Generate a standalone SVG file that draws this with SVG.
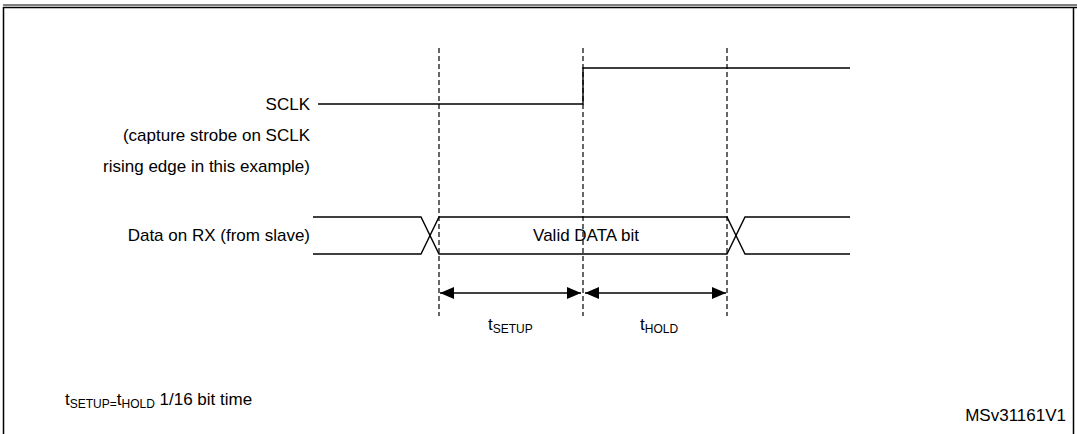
<svg xmlns="http://www.w3.org/2000/svg" width="1077" height="434" viewBox="0 0 1077 434">
<style>
text{font-family:"Liberation Sans",Arial,sans-serif;font-size:17px;fill:#000}
.w{fill:none;stroke:#000;stroke-width:1.4}
.d{stroke:#000;stroke-width:1.2;stroke-dasharray:5,3}
</style>
<defs>
<marker id="a" viewBox="0 0 14 12" refX="14" refY="6" markerWidth="14" markerHeight="12" orient="auto-start-reverse" markerUnits="userSpaceOnUse"><path d="M0,0L14,6L0,12z"/></marker>
</defs>
<rect width="1077" height="434" fill="#fff"/>
<g id="frame">
<line x1="3" y1="5" x2="1077" y2="5" stroke="#000" stroke-width="1"/>
<line x1="3" y1="7.5" x2="1077" y2="7.5" stroke="#000" stroke-width="1.5"/>
<line x1="3.5" y1="7" x2="3.5" y2="434" stroke="#000" stroke-width="1.5"/>
<line x1="1073.5" y1="7" x2="1073.5" y2="434" stroke="#000" stroke-width="1.5"/>
</g>
<g id="labels">
<text x="310" y="110" text-anchor="end">SCLK</text>
<text x="310" y="141" text-anchor="end">(capture strobe on SCLK</text>
<text x="310" y="172" text-anchor="end">rising edge in this example)</text>
<text x="310" y="241" text-anchor="end">Data on RX (from slave)</text>
<text x="586" y="241" text-anchor="middle">Valid DATA bit</text>
<text x="488" y="330">t<tspan font-size="12" dy="3">SETUP</tspan></text>
<text x="640" y="330">t<tspan font-size="12" dy="3">HOLD</tspan></text>
<text x="65" y="405">t<tspan font-size="12" dy="3">SETUP=</tspan><tspan dy="-3">t</tspan><tspan font-size="12" dy="3">HOLD</tspan><tspan dy="-3"> 1/16 bit time</tspan></text>
<text x="1066" y="421" text-anchor="end" font-size="13">MSv31161V1</text>
</g>
<g id="sclk"><path class="w" d="M318,104H583V68H850"/></g>
<g id="data">
<path class="w" d="M313,217H421L439,254H727L745,217H850"/>
<path class="w" d="M313,254H421L439,217H727L745,254H850"/>
</g>
<g id="connectors">
<line class="d" x1="439" y1="48" x2="439" y2="316"/>
<line class="d" x1="583" y1="48" x2="583" y2="316"/>
<line class="d" x1="727" y1="48" x2="727" y2="316"/>
<line x1="440" y1="293" x2="581" y2="293" stroke="#000" stroke-width="1.5" marker-start="url(#a)" marker-end="url(#a)"/>
<line x1="585" y1="293" x2="726" y2="293" stroke="#000" stroke-width="1.5" marker-start="url(#a)" marker-end="url(#a)"/>
</g>
</svg>
